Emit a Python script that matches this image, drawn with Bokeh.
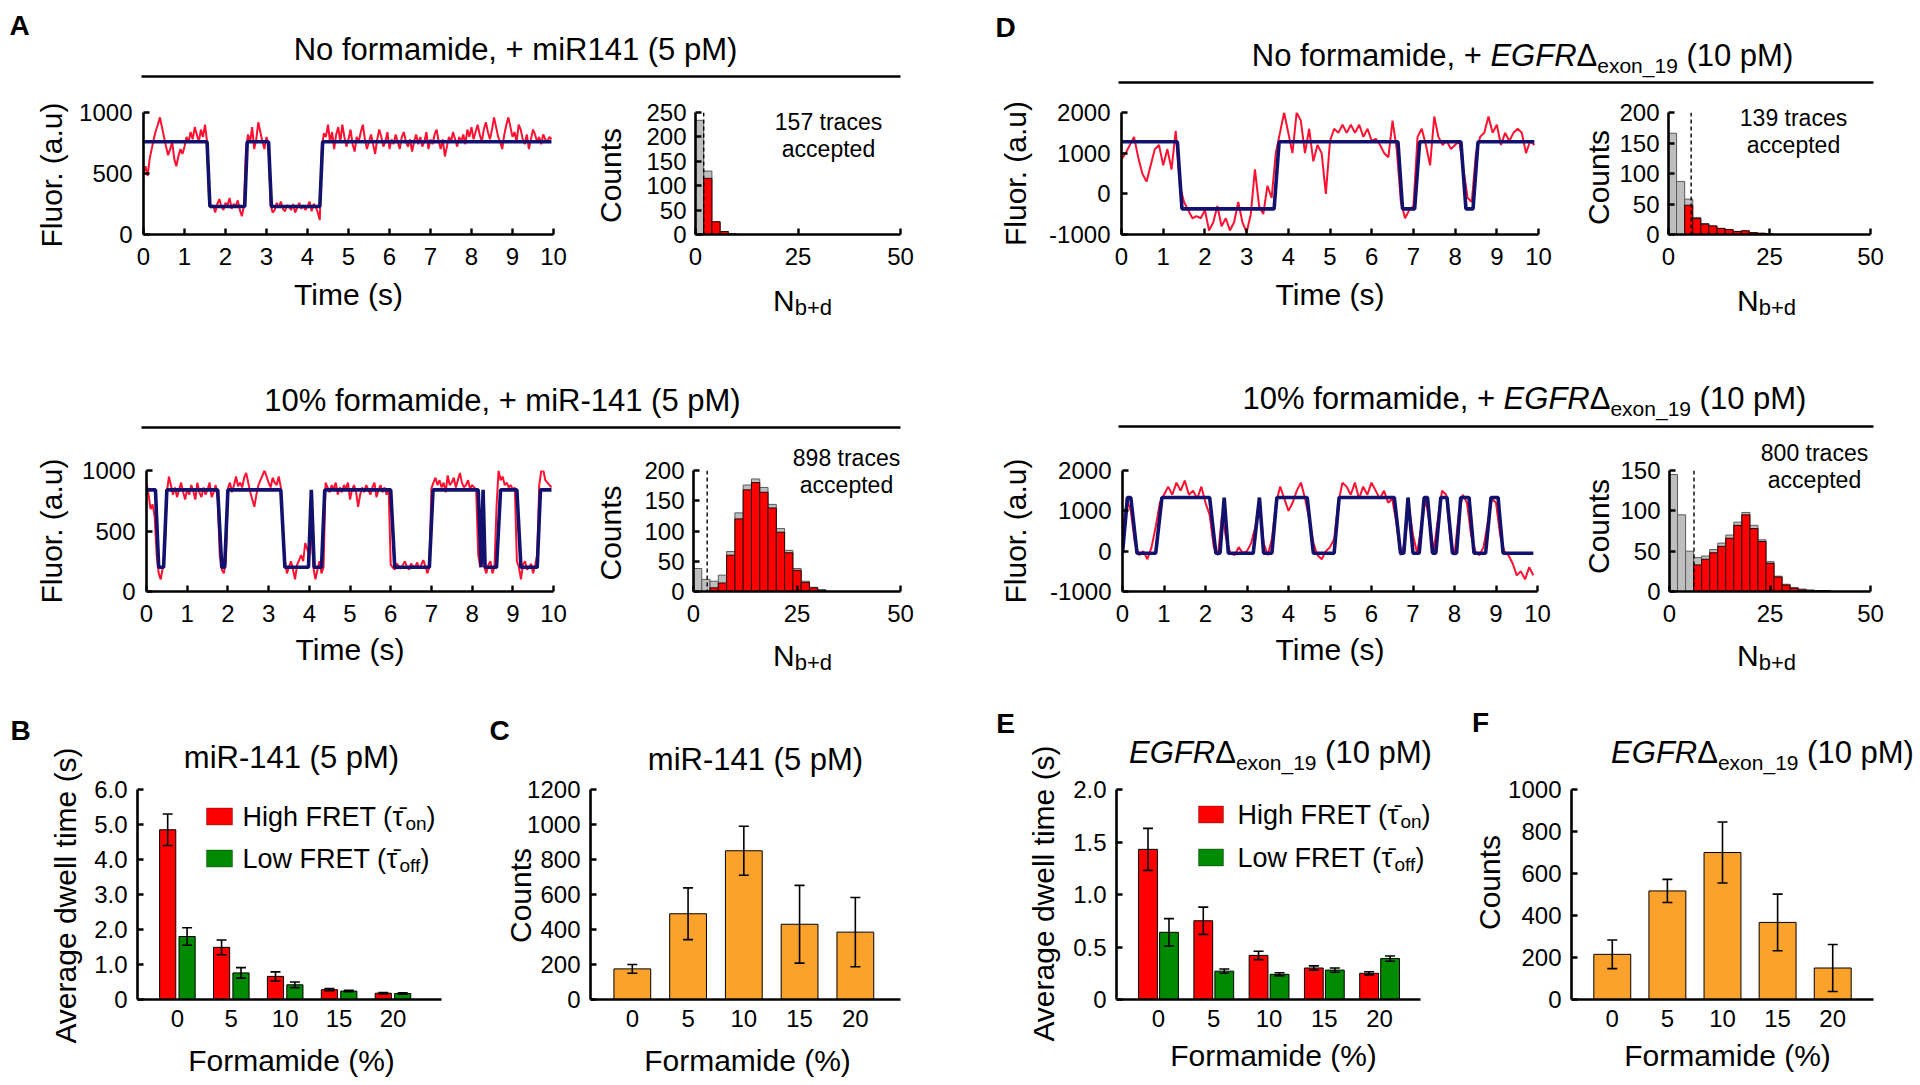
import numpy as np
from bokeh.plotting import figure
from bokeh.models import (Range1d, Label, FixedTicker, Whisker, ColumnDataSource, Span,
                          TeeHead, BoxAnnotation, PrintfTickFormatter, GridBox, Spacer)
from bokeh.layouts import row, column
from bokeh.embed import file_html
from bokeh.resources import INLINE

FONT = "Liberation Sans"
RED_TRACE = "#FF1030"
NAVY = "#12126E"
BAR_RED = "#FF0000"
BAR_GREEN = "#008A00"
BAR_ORANGE = "#FBA22C"
HIST_GRAY = "#BEBEBE"
W_PAGE, H_PAGE = 1920, 1085

# ------------------------------------------------------------------ data
# Panel A (top): single-molecule trace, 0.05 s frames
dt_A = 0.05
trace_A1 = [
    500, 560, 480, 620, 700, 780, 850, 900, 960, 880,
    800, 720, 650, 700, 760, 620, 560, 640, 700, 660,
    720, 800, 760, 840, 780, 880, 820, 760, 860, 800,
    900, 760,
    260, 220, 240, 180, 250, 290, 230, 200, 260, 240,
    300, 210, 250, 230, 280, 200, 150, 240,
    700, 820, 760, 880, 700, 780, 920, 840, 760, 700, 800, 740,
    240, 180, 200, 260, 220, 270, 210, 190, 240, 230,
    200, 250, 180, 220, 260, 210, 240, 200, 230, 270,
    190, 250, 230, 180, 120,
    720, 830, 800, 900, 760, 840, 700, 820, 880, 760,
    900, 800, 720, 780, 860, 740, 680, 800, 760, 840,
    900, 780, 700, 760, 820, 740, 660, 780, 860, 800,
    720, 760, 840, 700, 780, 740, 820, 760, 700, 800,
    840, 760, 720, 780, 680, 760, 820, 740, 800, 720,
    760, 840, 700, 780, 740, 820, 860, 760, 700, 780,
    640, 720, 800, 760, 840, 780, 720, 800, 760, 820,
    740, 860, 800, 880, 780, 840, 900, 820, 760, 860,
    920, 840, 780, 860, 960, 880, 800, 760, 700, 820,
    900, 960, 880, 800, 840, 760, 900, 860, 780, 740,
    820, 700, 780, 860, 820, 760, 800, 740, 820, 780,
    760, 800, 780,
]
fit_A1_t = [0, 1.55, 1.62, 2.47, 2.53, 3.05, 3.12, 4.30, 4.37, 9.95]
fit_A1_y = [760, 760, 230, 230, 760, 760, 230, 230, 760, 760]

trace_A2 = [
    900, 800, 680, 720, 620,
    300, 150, 100, 200, 350,
    820, 950, 880, 800, 860, 780, 840, 900, 820, 760,
    850, 800, 880, 830, 760, 900, 820, 780, 860, 800,
    840, 900, 780, 820, 880, 760,
    300, 180, 150, 250,
    850, 900, 820, 880, 950, 870, 900, 860, 940, 980,
    900, 820, 760, 700, 800, 880, 920, 960, 1000, 950,
    900, 860, 940, 900, 880, 950, 860,
    500, 250, 150, 200, 250, 180, 100, 220, 260, 300,
    250, 400, 350, 300,
    500,
    200, 100, 180, 250, 150, 200,
    900, 860, 820, 880, 840, 900, 800, 860, 820, 880,
    850, 900, 760, 840, 880, 820, 700, 800, 860, 820,
    880, 840, 800, 860, 900, 780, 840, 880, 820, 860,
    800, 850,
    220, 200, 180, 230, 210, 190, 220, 250, 200, 180,
    230, 210, 200, 240, 190, 220, 260, 210, 150, 200,
    850, 900, 940, 880, 920, 860, 900, 820, 960, 880,
    900, 940, 860, 920, 980, 900, 860, 880, 920, 850,
    880, 860, 840,
    300, 200, 700, 200, 150, 220, 250, 150, 200,
    700, 1000, 920, 950, 880, 900, 860, 880, 840, 860,
    250, 200, 100, 220, 250, 180, 200, 230, 150, 220, 300,
    880, 1000, 1000, 920, 900, 880, 860,
]
fit_A2_t = [0, 0.22, 0.3, 0.42, 0.5, 1.75, 1.85, 1.92, 2.0, 3.3, 3.4, 3.98, 4.05, 4.12,
            4.3, 4.38, 6.0, 6.1, 6.95, 7.04, 8.15, 8.22, 8.27, 8.32, 8.6, 8.7, 9.1, 9.2,
            9.6, 9.68, 9.95]
fit_A2_y = [840, 840, 200, 200, 840, 840, 200, 200, 840, 840, 200, 200, 840, 200,
            200, 840, 840, 200, 200, 840, 840, 200, 840, 200, 200, 840, 840, 200,
            200, 840, 840]

# Panel D: traces, 0.1 s frames
dt_D = 0.1
trace_D1 = [
    850, 1000, 1200, 1400, 900, 500, 300, 700, 1100, 1200,
    700, 1100, 600, 1550, 200, -200, -400, -600, -550, -600,
    -400, -900, -700, -300, -800, -600, -900, -700, -200, -700,
    -950, -500, 600, -300, -500, 200, -100, 1000, 1500, 2000,
    1500, 1000, 2000, 1800, 1000, 1600, 800, 1200, 1000, 0,
    1300, 1600, 1500, 1700, 1500, 1700, 1500, 1700, 1400, 1600,
    1300, 1350, 1200, 1000, 900, 1800, 1100, -200, -600, -400,
    -300, 1400, 1600, 1200, 700, 1900, 1400, 1200, 1300, 1100,
    1200, 1300, 600, -100, -200, 1000, 1400, 1500, 1900, 1500,
    1700, 1200, 1500, 1300, 1500, 1600, 1500, 1000, 1300, 1200,
]
fit_D1_t = [0, 1.34, 1.45, 3.66, 3.78, 6.63, 6.74, 7.03, 7.15, 8.14, 8.26, 8.43, 8.55, 9.9]
fit_D1_y = [1280, 1280, -370, -370, 1280, 1280, -370, -370, 1280, 1280, -370, -370, 1280, 1280]

trace_D2 = [
    200, 1300, 1000, 200, -100, 0, -200, 100, 600, 1200,
    1400, 1600, 1400, 1700, 1500, 1750, 1400, 1500, 1300, 1600,
    1200, 900, 100, -100, 900, 300, -50, -100, 100, -50,
    0, 200, 600, 1300, 200, -100, 300, 1200, 1600, 1300,
    1000, 1200, 1500, 1700, 1300, 800, 200, -100, -200, 0,
    100, 300, 1200, 1700, 1600, 1400, 1700, 1300, 1600, 1400,
    1700, 1500, 1300, 1500, 1200, 1300, 700, -100, 200, 1100,
    400, -50, 600, 1300, 700, 0, 800, 1500, 1400, 300,
    -100, 900, 1400, 1200, 400, 0, -100, 100, 700, 1300,
    1200, 400, 0, -100, -300, -600, -500, -700, -400, -600,
]
fit_D2_t = [0, 0.12, 0.2, 0.35, 0.8, 0.95, 2.1, 2.25, 2.35, 2.45, 2.55, 3.15, 3.3, 3.4,
            3.6, 3.72, 4.45, 4.6, 5.1, 5.22, 6.55, 6.7, 6.78, 6.88, 7.0, 7.15, 7.27, 7.35,
            7.47, 7.55, 7.67, 7.82, 7.95, 8.05, 8.15, 8.35, 8.47, 8.75, 8.88, 9.05, 9.17, 9.9]
fit_D2_y = [-50, 1330, 1330, -50, -50, 1330, 1330, -50, -50, 1330, -50, -50, 1330, -50,
            -50, 1330, 1330, -50, -50, 1330, 1330, -50, -50, 1330, -50, -50, 1330, 1330,
            -50, -50, 1330, 1330, -50, -50, 1330, 1330, -50, -50, 1330, 1330, -50, -50]

# Histograms of N(b+d): bins of width 2 starting at 0 (gray = all, red = accepted)
bin_w = 2
hist_A1_all = [234, 130, 26, 6, 1]
hist_A1_acc = [0, 115, 26, 6, 1]
hist_A2_all = [38, 20, 17, 27, 66, 130, 176, 186, 172, 144, 104, 68, 38, 17, 7, 3]
hist_A2_acc = [0, 0, 6, 14, 60, 120, 168, 180, 164, 138, 98, 64, 35, 15, 6, 2]
hist_D1_all = [166, 87, 58, 28, 18, 14, 10, 8, 5, 6, 3, 2, 1]
hist_D1_acc = [0, 0, 48, 26, 17, 14, 10, 8, 5, 6, 3, 2, 1]
hist_D2_all = [145, 95, 50, 42, 44, 52, 60, 70, 86, 98, 82, 64, 37, 19, 9, 5, 3, 2, 1, 1]
hist_D2_acc = [0, 0, 0, 33, 40, 48, 56, 66, 82, 95, 78, 62, 35, 18, 8, 4, 2, 1, 1, 1]
thresholds = {"A1": 2.0, "A2": 3.3, "D1": 5.6, "D2": 6.1}
traces_accepted = {"A1": 157, "A2": 898, "D1": 139, "D2": 800}

# Bar charts
formamide = ["0", "5", "10", "15", "20"]
B_high = [4.85, 1.49, 0.66, 0.28, 0.18]
B_high_err = [0.45, 0.21, 0.13, 0.03, 0.02]
B_low = [1.80, 0.76, 0.42, 0.24, 0.17]
B_low_err = [0.25, 0.15, 0.08, 0.02, 0.02]
C_counts = [175, 490, 850, 430, 385]
C_err = [25, 148, 140, 222, 198]
E_high = [1.43, 0.75, 0.42, 0.30, 0.25]
E_high_err = [0.20, 0.13, 0.04, 0.02, 0.015]
E_low = [0.64, 0.27, 0.24, 0.28, 0.39]
E_low_err = [0.13, 0.02, 0.015, 0.02, 0.025]
F_counts = [215, 517, 700, 367, 150]
F_err = [68, 55, 145, 135, 112]

# ------------------------------------------------------------------ helpers
WID = {' ': 278, '%': 889, '(': 333, ')': 333, '+': 584, ',': 278, '-': 333, '.': 278,
       '_': 556, 'A': 667, 'B': 667, 'C': 722, 'D': 722, 'E': 667, 'F': 611, 'G': 778,
       'H': 722, 'I': 278, 'L': 556, 'M': 833, 'N': 722, 'R': 722, 'T': 611, 'a': 556,
       'b': 556, 'c': 500, 'd': 556, 'e': 556, 'f': 278, 'g': 556, 'h': 556, 'i': 222,
       'l': 222, 'm': 833, 'n': 556, 'o': 556, 'p': 556, 'r': 333, 's': 500, 't': 278,
       'u': 556, 'v': 500, 'w': 722, 'x': 500, '\u0394': 668, '\u03c4': 480, '\u0304': 0}
for _d in "0123456789":
    WID[_d] = 556


def tw(s, size):
    return sum(WID.get(c, 556) for c in s) / 1000.0 * size


# transparent text layer covering the whole page (page pixel coordinates)
ov = figure(width=W_PAGE, height=H_PAGE, x_range=Range1d(0, W_PAGE), y_range=Range1d(0, H_PAGE),
            min_border=0, x_axis_type=None, y_axis_type=None, output_backend="svg",
            toolbar_location=None, title=None)
ov.background_fill_color = None
ov.border_fill_color = None
ov.outline_line_color = None


def T(px, py, s, size, align="center", angle=0.0, style="normal"):
    ov.add_layout(Label(x=px, y=H_PAGE - py, text=s, text_font=FONT,
                        text_font_size=f"{size}px", text_align=align,
                        text_baseline="middle", angle=angle,
                        text_font_style=style, text_color="black"))


def RICH(cx, cy, pieces, align="center"):
    total = sum(tw(t, s) for t, s, st, d in pieces)
    x = cx - total / 2.0 if align == "center" else cx
    for t, s, st, d in pieces:
        lead = len(t) - len(t.lstrip(" "))
        T(x + tw(" " * lead, s), cy + d, t.strip(" "), s, align="left", style=st)
        x += tw(t, s)


def HLINE(px0, px1, py, lw=2.6):
    ov.add_layout(BoxAnnotation(left=px0, right=px1, bottom=H_PAGE - py - lw / 2,
                                top=H_PAGE - py + lw / 2, fill_color="black", fill_alpha=1.0,
                                line_color=None))


def BOX(px0, px1, py, hgt, color):
    ov.add_layout(BoxAnnotation(left=px0, right=px1, bottom=H_PAGE - py - hgt / 2,
                                top=H_PAGE - py + hgt / 2, fill_color=color, fill_alpha=1.0,
                                line_color="black", line_width=1.2))


class Panel:
    def __init__(self, cx, cy, w, h, frame, xr, yr):
        L, T_, R, B = frame
        self.L, self.T, self.R, self.B = frame
        p = figure(width=w, height=h, x_range=Range1d(*xr), y_range=Range1d(*yr),
                   min_border_left=L - cx, min_border_right=cx + w - R,
                   min_border_top=T_ - cy, min_border_bottom=cy + h - B,
                   output_backend="svg", toolbar_location=None, title=None)
        p.outline_line_color = None
        p.background_fill_color = "white"
        p.border_fill_color = "white"
        for g in p.grid:
            g.visible = False
        self.p = p


def style_axes(P, xticks, yticks, xstand=13, ystand=11, xtick_in=6, size=24):
    for ax, ticks, st, tin in ((P.p.xaxis[0], xticks, xstand, xtick_in),
                               (P.p.yaxis[0], yticks, ystand, 6)):
        ax.ticker = FixedTicker(ticks=ticks)
        ax.formatter = PrintfTickFormatter(format="%d")
        ax.axis_line_width = 2.6
        ax.axis_line_color = "black"
        ax.major_tick_line_width = 2.4
        ax.major_tick_line_color = "black"
        ax.major_tick_in = tin
        ax.major_tick_out = 0
        ax.minor_tick_line_color = None
        ax.major_label_text_font = FONT
        ax.major_label_text_font_size = f"{size}px"
        ax.major_label_text_color = "black"
        ax.major_label_standoff = st


AXLAB = 30
TITLE = 31
LETTER = 28
ROT = np.pi / 2


def trace_panel(P, values, dt, fit_t, fit_y, yticks, ylab_x, xlab_y):
    t = np.arange(len(values)) * dt
    P.p.line(t, values, line_color=RED_TRACE, line_width=2.0)
    P.p.line(fit_t, fit_y, line_color=NAVY, line_width=3.6)
    style_axes(P, list(range(11)), yticks)
    T(ylab_x, (P.T + P.B) / 2, "Fluor. (a.u)", AXLAB, angle=ROT)
    T((P.L + P.R) / 2, xlab_y, "Time (s)", AXLAB)


def hist_panel(P, all_c, acc_c, thr, yticks, ylab_x, xlab_cx, xlab_y, n_tr, ann_cx, ann_y):
    left = np.arange(len(all_c)) * bin_w
    P.p.quad(left=left, right=left + bin_w, bottom=0, top=all_c, fill_color=HIST_GRAY,
             line_color="#5A5A5A", line_width=1)
    left2 = np.arange(len(acc_c)) * bin_w
    P.p.quad(left=left2, right=left2 + bin_w, bottom=0, top=acc_c, fill_color=BAR_RED,
             line_color="#2A0000", line_width=1)
    P.p.add_layout(Span(location=thr, dimension="height", line_color="black",
                        line_dash="4 3", line_width=1.4))
    style_axes(P, [0, 25, 50], yticks, ystand=9)
    T(ylab_x, (P.T + P.B) / 2, "Counts", AXLAB, angle=ROT)
    RICH(xlab_cx, xlab_y, [("N", 30, "normal", 0), ("b+d", 22, "normal", 7)])
    T(ann_cx, ann_y, f"{n_tr} traces", 23)
    T(ann_cx, ann_y + 27, "accepted", 23)


def add_err(p, x, v, e):
    v = np.asarray(v, float)
    e = np.asarray(e, float)
    src = ColumnDataSource(dict(x=x, lo=v - e, hi=v + e))
    p.add_layout(Whisker(source=src, base="x", lower="lo", upper="hi", line_color="black",
                         line_width=1.6, level="overlay",
                         upper_head=TeeHead(size=10, line_width=1.6, line_color="black"),
                         lower_head=TeeHead(size=10, line_width=1.6, line_color="black")))


def bar_axes(P, yticks, yfmt):
    xs_ = list(range(len(formamide)))
    style_axes(P, xs_, yticks, xstand=10, ystand=10, xtick_in=0)
    P.p.xaxis[0].major_label_overrides = {i: formamide[i] for i in xs_}
    P.p.yaxis[0].formatter = PrintfTickFormatter(format=yfmt)
    P.p.yaxis[0].major_label_overrides = {0: "0"}


def legend(bx0, bx1, tx, y1, y2):
    for yy, col, sub in ((y1, BAR_RED, "on"), (y2, BAR_GREEN, "off")):
        BOX(bx0, bx1, yy, 17, col)
        word = "High FRET (" if sub == "on" else "Low FRET ("
        RICH(tx, yy, [(word, 27, "normal", 0), ("\u03c4\u0304", 27, "normal", 0),
                      (sub, 19, "normal", 7), (")", 27, "normal", 0)], align="left")


def egfr_pieces(prefix, size=TITLE):
    out = []
    if prefix:
        out.append((prefix, size, "normal", 0))
    out += [("EGFR", size, "italic", 0), ("\u0394", size, "normal", 0),
            ("exon_19", 21, "normal", 10), (" (10 pM)", size, "normal", 0)]
    return out


# ------------------------------------------------------------------ headers (text layer)
T(19, 25, "A", LETTER, style="bold")
T(515, 49, "No formamide, + miR141 (5 pM)", TITLE)
HLINE(141, 900, 76)
T(1005, 27, "D", LETTER, style="bold")
RICH(1522, 55, egfr_pieces("No formamide, + "))
HLINE(1118, 1873, 82)
T(502, 400, "10% formamide, + miR-141 (5 pM)", TITLE)
HLINE(141, 900, 427)
RICH(1524, 398, egfr_pieces("10% formamide, + "))
HLINE(1118, 1873, 426)

# ------------------------------------------------------------------ row 1 plots
TA1 = Panel(0, 88, 585, 232, (143, 112, 553, 237), (0, 10), (0, 1000))
trace_panel(TA1, trace_A1, dt_A, fit_A1_t, fit_A1_y, [0, 500, 1000], 51, 294)

hA1 = Panel(585, 88, 375, 232, (695, 103, 900, 247), (0, 50), (0, 250))
hist_panel(hA1, hist_A1_all, hist_A1_acc, thresholds["A1"], [0, 50, 100, 150, 200, 250],
           610, 802, 300, traces_accepted["A1"], 828, 121)

TD1 = Panel(960, 88, 615, 232, (1121, 112, 1538, 234), (0, 10), (-1000, 2000))
trace_panel(TD1, trace_D1, dt_D, fit_D1_t, fit_D1_y, [-1000, 0, 1000, 2000], 1015, 294)

hD1 = Panel(1575, 88, 345, 232, (1668, 105, 1870, 249), (0, 50), (0, 200))
hist_panel(hD1, hist_D1_all, hist_D1_acc, thresholds["D1"], [0, 50, 100, 150, 200],
           1598, 1766, 300, traces_accepted["D1"], 1793, 117)

# ------------------------------------------------------------------ row 2 plots
TA2 = Panel(0, 436, 585, 239, (146, 469, 553, 592), (0, 10), (0, 1000))
trace_panel(TA2, trace_A2, dt_A, fit_A2_t, fit_A2_y, [0, 500, 1000], 51, 649)

hA2 = Panel(585, 436, 375, 239, (693, 463, 900, 602), (0, 50), (0, 200))
hist_panel(hA2, hist_A2_all, hist_A2_acc, thresholds["A2"], [0, 50, 100, 150, 200],
           610, 802, 655, traces_accepted["A2"], 846, 457)

TD2 = Panel(960, 436, 615, 239, (1122, 470, 1537, 591), (0, 10), (-1000, 2000))
trace_panel(TD2, trace_D2, dt_D, fit_D2_t, fit_D2_y, [-1000, 0, 1000, 2000], 1015, 649)

hD2 = Panel(1575, 436, 345, 239, (1669, 451, 1870, 601), (0, 50), (0, 150))
hist_panel(hD2, hist_D2_all, hist_D2_acc, thresholds["D2"], [0, 50, 100, 150],
           1598, 1766, 655, traces_accepted["D2"], 1814, 452)

# ------------------------------------------------------------------ row 3
xs = np.arange(len(formamide))

PB = Panel(0, 675, 470, 410, (137, 789, 441, 1002), (-0.74, 4.9), (0, 6))
PB.p.vbar(x=xs - 0.18, width=0.3, top=B_high, fill_color=BAR_RED, line_color="black", line_width=1)
PB.p.vbar(x=xs + 0.18, width=0.3, top=B_low, fill_color=BAR_GREEN, line_color="black", line_width=1)
add_err(PB.p, xs - 0.18, B_high, B_high_err)
add_err(PB.p, xs + 0.18, B_low, B_low_err)
bar_axes(PB, [0, 1, 2, 3, 4, 5, 6], "%.1f")
T(20, 730, "B", LETTER, style="bold")
T(291, 757, "miR-141 (5 pM)", TITLE)
T(65, 895, "Average dwell time (s)", AXLAB, angle=ROT)
T(291, 1060, "Formamide (%)", AXLAB)
legend(206, 232, 242, 816, 858)

PC = Panel(470, 675, 490, 410, (590, 789, 900, 1002), (-0.75, 4.81), (0, 1200))
PC.p.vbar(x=xs, width=0.66, top=C_counts, fill_color=BAR_ORANGE, line_color="black", line_width=1)
add_err(PC.p, xs, C_counts, C_err)
bar_axes(PC, [0, 200, 400, 600, 800, 1000, 1200], "%d")
T(499, 730, "C", LETTER, style="bold")
T(755, 759, "miR-141 (5 pM)", TITLE)
T(520, 895, "Counts", AXLAB, angle=ROT)
T(747, 1060, "Formamide (%)", AXLAB)

PE = Panel(960, 675, 500, 410, (1116, 787, 1420, 999), (-0.76, 4.74), (0, 2))
PE.p.vbar(x=xs - 0.19, width=0.34, top=E_high, fill_color=BAR_RED, line_color="black", line_width=1)
PE.p.vbar(x=xs + 0.19, width=0.34, top=E_low, fill_color=BAR_GREEN, line_color="black", line_width=1)
add_err(PE.p, xs - 0.19, E_high, E_high_err)
add_err(PE.p, xs + 0.19, E_low, E_low_err)
bar_axes(PE, [0, 0.5, 1.0, 1.5, 2.0], "%.1f")
T(1005, 723, "E", LETTER, style="bold")
RICH(1280, 752, egfr_pieces(""))
T(1043, 893, "Average dwell time (s)", AXLAB, angle=ROT)
T(1273, 1055, "Formamide (%)", AXLAB)
legend(1198, 1223, 1237, 814, 857)

PF = Panel(1460, 675, 460, 410, (1571, 787, 1873, 999), (-0.74, 4.74), (0, 1000))
PF.p.vbar(x=xs, width=0.67, top=F_counts, fill_color=BAR_ORANGE, line_color="black", line_width=1)
add_err(PF.p, xs, F_counts, F_err)
bar_axes(PF, [0, 200, 400, 600, 800, 1000], "%d")
T(1480, 722, "F", LETTER, style="bold")
RICH(1762, 752, egfr_pieces(""))
T(1489, 882, "Counts", AXLAB, angle=ROT)
T(1727, 1055, "Formamide (%)", AXLAB)

data_layout = column(
    Spacer(width=W_PAGE, height=88),
    row(TA1.p, hA1.p, TD1.p, hD1.p, spacing=0),
    Spacer(width=W_PAGE, height=116),
    row(TA2.p, hA2.p, TD2.p, hD2.p, spacing=0),
    row(PB.p, PC.p, PE.p, PF.p, spacing=0),
    spacing=0,
)

page = GridBox(children=[(data_layout, 0, 0), (ov, 0, 0)])

open("out.html", "w").write(file_html(page, INLINE))
